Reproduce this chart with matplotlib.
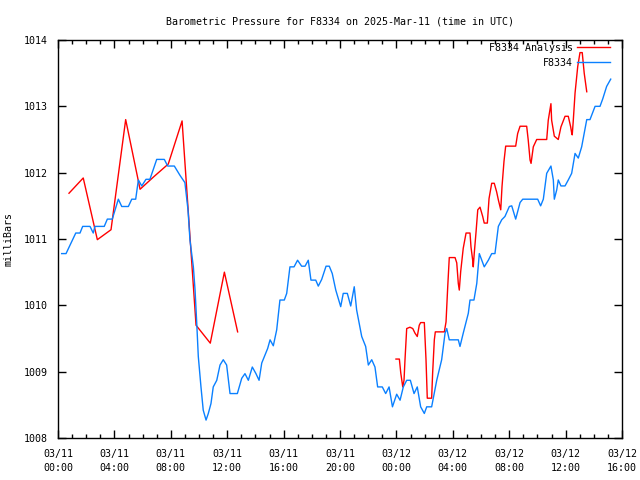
import matplotlib
matplotlib.use("Agg")
import matplotlib.pyplot as plt
import numpy as np

# hours after 2025-03-11 00:00 UTC
obs_hours = [
    0.26, 0.57, 1.26, 1.56, 1.75, 2.27, 2.50, 2.62, 3.28, 3.50, 3.85, 4.28, 4.52, 4.99,
    5.23, 5.51, 5.70, 5.94, 6.24, 6.52, 7.00, 7.54, 7.78, 8.25, 8.65, 9.00, 9.22, 9.36,
    9.60, 9.72, 9.84, 9.95, 10.14, 10.30, 10.50, 10.66, 10.85, 11.01, 11.26, 11.49, 11.72,
    11.96, 12.20, 12.72, 13.03, 13.26, 13.50, 13.78, 14.04, 14.26, 14.45, 14.68, 14.87,
    15.04, 15.27, 15.51, 15.74, 16.05, 16.22, 16.45, 16.74, 16.99, 17.28, 17.52, 17.75,
    17.94, 18.28, 18.46, 18.70, 19.01, 19.24, 19.45, 19.70, 20.05, 20.23, 20.52, 20.76,
    21.01, 21.18, 21.54, 21.82, 22.01, 22.25, 22.48, 22.67, 23.00, 23.24, 23.48, 23.72,
    24.02, 24.26, 24.49, 24.73, 24.99, 25.25, 25.48, 25.72, 25.98, 26.15, 26.50, 26.86,
    27.21, 27.45, 27.57, 27.75, 28.39, 28.51, 28.74, 29.10, 29.22, 29.50, 29.70, 29.88,
    30.23, 30.52, 30.76, 30.99, 31.23, 31.47, 31.70, 32.01, 32.18, 32.46, 32.77, 32.96,
    34.02, 34.23, 34.42, 34.66, 34.96, 35.13, 35.20, 35.37, 35.48, 35.67, 35.96, 36.19,
    36.43, 36.67, 36.90, 37.14, 37.50, 37.73, 38.09, 38.44, 38.63, 38.91, 39.20,
]
obs_mb = [
    1010.78, 1010.78, 1011.09, 1011.09, 1011.19, 1011.19, 1011.09, 1011.19, 1011.19, 1011.30,
    1011.30, 1011.60, 1011.49, 1011.49, 1011.60, 1011.60, 1011.89, 1011.80, 1011.90, 1011.90,
    1012.20, 1012.20, 1012.10, 1012.10, 1011.96, 1011.85, 1011.44, 1010.98, 1010.58, 1010.23,
    1009.73, 1009.23, 1008.77, 1008.42, 1008.27, 1008.37, 1008.52, 1008.77, 1008.87, 1009.10,
    1009.18, 1009.10, 1008.67, 1008.67, 1008.90, 1008.97, 1008.87, 1009.07, 1008.97, 1008.87,
    1009.13, 1009.25, 1009.35, 1009.48, 1009.39, 1009.63, 1010.08, 1010.08, 1010.18, 1010.58,
    1010.58, 1010.68, 1010.59, 1010.59, 1010.68, 1010.38, 1010.38, 1010.29, 1010.39, 1010.59,
    1010.59, 1010.48, 1010.23, 1009.98, 1010.18, 1010.18, 1009.99, 1010.28, 1009.93, 1009.53,
    1009.38, 1009.10, 1009.18, 1009.07, 1008.77, 1008.77, 1008.67, 1008.77, 1008.47, 1008.66,
    1008.57, 1008.77, 1008.87, 1008.87, 1008.67, 1008.77, 1008.47, 1008.37, 1008.47, 1008.47,
    1008.87, 1009.18, 1009.58, 1009.65, 1009.48, 1009.48, 1009.38, 1009.58, 1009.88, 1010.08,
    1010.08, 1010.33, 1010.78, 1010.58, 1010.68, 1010.78, 1010.78, 1011.19, 1011.29, 1011.34,
    1011.49, 1011.50, 1011.30, 1011.55, 1011.60, 1011.60, 1011.50, 1011.60, 1011.99, 1012.10,
    1011.89, 1011.60, 1011.74, 1011.89, 1011.80, 1011.80, 1011.89, 1011.99, 1012.29, 1012.22,
    1012.39, 1012.80, 1012.80, 1013.00, 1013.00, 1013.11, 1013.30, 1013.41,
]

# analysis: hourly values in the first run, then a gap, then denser values
ana_hours = [
    0.78, 1.79, 2.79, 3.76, 4.80, 5.82, 6.80, 7.82, 8.80, 9.79, 10.80, 11.80, 12.74,
    np.nan,
    23.97, 24.21, 24.31, 24.45, 24.54, 24.61, 24.73, 24.96, 25.16, 25.32, 25.48, 25.62,
    25.72, 25.98, 26.10, 26.19, 26.50, 26.57, 26.69, 26.76, 27.40, 27.52, 27.64, 27.75,
    28.16, 28.28, 28.39, 28.46, 28.56, 28.74, 28.94, 29.22, 29.29, 29.41, 29.45, 29.52,
    29.65, 29.77, 29.93, 30.12, 30.23, 30.45, 30.57, 30.76, 30.94, 31.11, 31.23, 31.40,
    31.49, 31.63, 31.75, 32.46, 32.60, 32.77, 33.24, 33.35, 33.48, 33.55, 33.71, 33.95,
    34.66, 34.77, 34.96, 35.01, 35.20, 35.48, 35.67, 35.96, 36.19, 36.36, 36.43, 36.47,
    36.54, 36.67, 36.86, 37.02, 37.18, 37.32, 37.50,
]
ana_mb = [
    1011.69, 1011.92, 1010.99, 1011.14, 1012.80, 1011.75, 1011.94, 1012.13, 1012.78,
    1009.70, 1009.43, 1010.50, 1009.60,
    np.nan,
    1009.19, 1009.19, 1008.98, 1008.77, 1008.87, 1009.18, 1009.65, 1009.67, 1009.65, 1009.58,
    1009.53, 1009.70, 1009.74, 1009.74, 1009.18, 1008.60, 1008.60, 1008.98, 1009.48, 1009.60,
    1009.60, 1009.75, 1010.28, 1010.72, 1010.72, 1010.64, 1010.33, 1010.23, 1010.51, 1010.86,
    1011.09, 1011.09, 1010.88, 1010.68, 1010.58, 1010.78, 1011.11, 1011.44, 1011.48, 1011.34,
    1011.24, 1011.24, 1011.61, 1011.84, 1011.84, 1011.71, 1011.59, 1011.44, 1011.79, 1012.17,
    1012.40, 1012.40, 1012.59, 1012.70, 1012.70, 1012.49, 1012.19, 1012.14, 1012.39, 1012.50,
    1012.50, 1012.79, 1013.04, 1012.79, 1012.55, 1012.50, 1012.69, 1012.85, 1012.85, 1012.69,
    1012.60, 1012.57, 1012.77, 1013.20, 1013.60, 1013.81, 1013.81, 1013.50, 1013.22,
]

tick_hours = [0, 4, 8, 12, 16, 20, 24, 28, 32, 36, 40]
tick_labels = ["03/11\n00:00", "03/11\n04:00", "03/11\n08:00", "03/11\n12:00",
               "03/11\n16:00", "03/11\n20:00", "03/12\n00:00", "03/12\n04:00",
               "03/12\n08:00", "03/12\n12:00", "03/12\n16:00"]

plt.rcParams["font.family"] = "DejaVu Sans Mono"
plt.rcParams["font.size"] = 7.2

fig = plt.figure(figsize=(6.4, 4.8), dpi=100)
ax = fig.add_axes([58 / 640, 42 / 480, 564 / 640, 398 / 480])

ax.plot(ana_hours, ana_mb, color="#ff0000", lw=1, label="F8334 Analysis")
ax.plot(obs_hours, obs_mb, color="#0a80ff", lw=1, label="F8334")

ax.set_xlim(0, 40)
ax.set_ylim(1008, 1014)
ax.set_xticks(tick_hours)
ax.set_xticklabels(tick_labels, linespacing=1.5)
ax.set_xticks(np.arange(0, 41, 1), minor=True)
ax.set_yticks(np.arange(1008, 1015, 1))
ax.tick_params(which="both", direction="in", top=True, right=True)
ax.tick_params(axis="x", pad=8)
ax.tick_params(axis="y", pad=7)
ax.tick_params(which="major", length=6, width=1)
ax.tick_params(which="minor", length=3, width=1)
for sp in ax.spines.values():
    sp.set_linewidth(1)

ax.set_ylabel("milliBars", labelpad=8)
ax.set_title("Barometric Pressure for F8334 on 2025-Mar-11 (time in UTC)",
             fontsize=7.2, pad=11)

ax.legend(loc="upper right", bbox_to_anchor=(552 / 564, 395 / 398), frameon=False,
          markerfirst=False, handlelength=3.3, borderaxespad=0, borderpad=0,
          labelspacing=0.5, handletextpad=0.4)

fig.savefig("out.png", dpi=100)
